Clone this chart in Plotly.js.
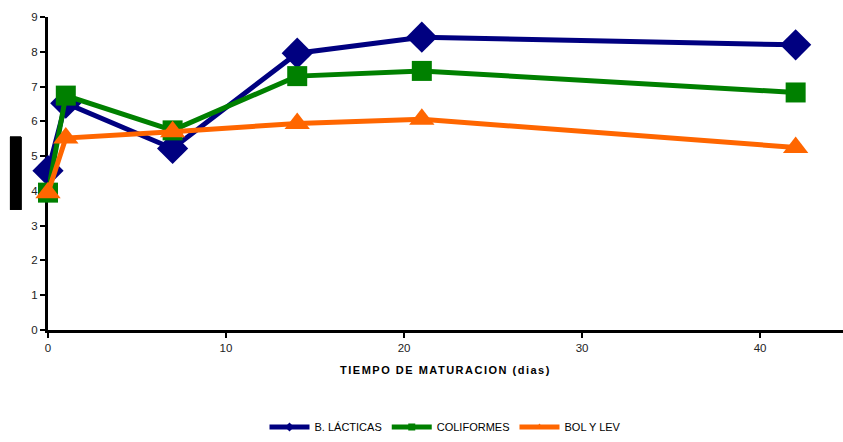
<!DOCTYPE html>
<html><head><meta charset="utf-8">
<script src="https://cdn.plot.ly/plotly-3.0.1.min.js"></script>
<style>html,body{margin:0;padding:0;background:#fff}#c{width:843px;height:442px}</style>
</head><body><div id="c"></div>
<script>
const dias = [0, 1, 7, 14, 21, 42];
const bLacticas = [4.58, 6.52, 5.22, 7.96, 8.42, 8.2];
const coliformes = [3.95, 6.74, 5.74, 7.3, 7.45, 6.83];
const bolYLev = [3.95, 5.52, 5.7, 5.94, 6.06, 5.25];
const seriesNames = ['B. LÁCTICAS', 'COLIFORMES', 'BOL Y LEV'];
const xTicks = [0, 10, 20, 30, 40];
const yTicks = [0, 1, 2, 3, 4, 5, 6, 7, 8, 9];

const colors = ['#000080', '#008000', '#FF6600'];
const symbols = ['diamond', 'square', 'triangle-up'];
const sizes = [24, 20, 22];
const data = [bLacticas, coliformes, bolYLev];

const traces = [];
data.forEach((ys, i) => {
  traces.push({x: dias, y: ys, name: seriesNames[i], mode: 'lines+markers', showlegend: false,
    cliponaxis: false,
    line: {color: colors[i], width: 5}, marker: {symbol: symbols[i], size: sizes[i], color: colors[i]}});
});
data.forEach((ys, i) => {
  traces.push({x: [null], y: [null], name: seriesNames[i], mode: 'lines+markers',
    line: {color: colors[i], width: 5}, marker: {symbol: symbols[i], size: 7, color: colors[i]}});
});

const layout = {
  width: 843, height: 442,
  margin: {l: 48, r: 0, t: 17, b: 110},
  paper_bgcolor: '#fff', plot_bgcolor: '#fff',
  font: {family: '"Liberation Sans Narrow", "Liberation Sans", Arial, sans-serif', size: 11.5, color: '#222'},
  showlegend: true,
  legend: {orientation: 'h', x: 0.5, xanchor: 'center', y: -0.31, yanchor: 'middle',
           font: {size: 11, color: '#000'}, itemwidth: 40, tracegroupgap: 0},
  xaxis: {range: [0, 44.66], tickvals: xTicks, ticks: 'outside', ticklen: 5, tickwidth: 2, tickcolor: '#000',
          showline: true, linecolor: '#000', linewidth: 3, showgrid: false, zeroline: false,
          fixedrange: true, layer: 'below traces',
          title: {text: 'TIEMPO DE MATURACION (dias)', standoff: 14,
                  font: {family: '"Liberation Sans", Arial, sans-serif', size: 11, color: '#000', weight: 'bold'}}},
  yaxis: {range: [0, 9], tickvals: yTicks, ticks: 'outside', ticklen: 5, tickwidth: 2, tickcolor: '#000',
          showline: true, linecolor: '#000', linewidth: 3, showgrid: false, zeroline: false,
          fixedrange: true, layer: 'below traces'},
  annotations: [{text: 'log UFC/g', xref: 'paper', yref: 'paper', x: -0.041, y: 0.5015,
                 xanchor: 'center', yanchor: 'middle', textangle: -90, showarrow: false,
                 font: {size: 8, color: '#000'}, bgcolor: '#000', width: 70, height: 9}],
  shapes: [{type: 'rect', xref: 'paper', yref: 'paper', x0: -0.0478, x1: -0.034, y0: 0.384, y1: 0.619,
            fillcolor: '#000', line: {width: 0}, layer: 'above'}]
};
Plotly.newPlot('c', traces, layout, {staticPlot: true}).then(() => {
  const t = document.querySelector('.xtitle');
  if (t) t.setAttribute('letter-spacing', '1.5px');
});
</script></body></html>
